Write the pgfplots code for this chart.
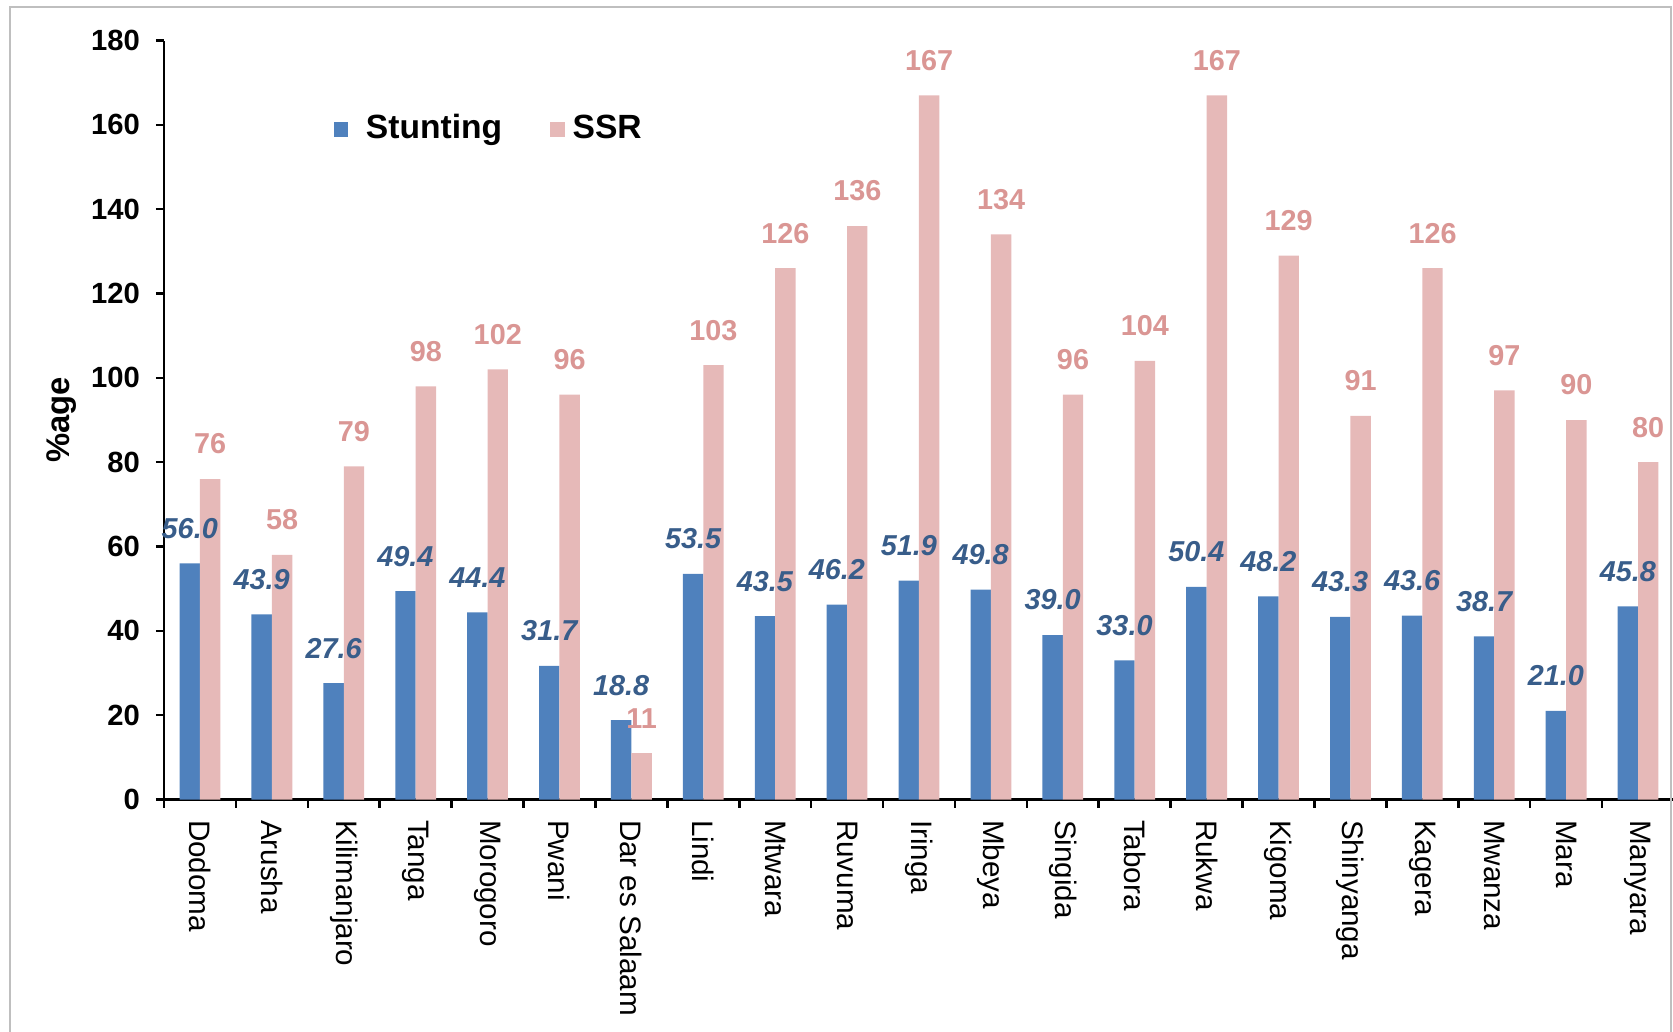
\documentclass[border=0pt]{standalone}
\usepackage{pgfplots}
\pgfplotsset{compat=1.18}
\usepackage{pgfplotstable}
\usepackage{fontspec}
\setmainfont{Liberation Sans}

\definecolor{stuntbar}{HTML}{4F81BD}
\definecolor{ssrbar}{HTML}{E6B9B8}
\definecolor{stuntlbl}{HTML}{385D8A}
\definecolor{ssrlbl}{HTML}{DA9694}
\definecolor{framegray}{HTML}{BFBFBF}

% Stunting (%) and SSR by region
\pgfplotstableread{
idx stunting ssr
0  56.0  76
1  43.9  58
2  27.6  79
3  49.4  98
4  44.4 102
5  31.7  96
6  18.8  11
7  53.5 103
8  43.5 126
9  46.2 136
10 51.9 167
11 49.8 134
12 39.0  96
13 33.0 104
14 50.4 167
15 48.2 129
16 43.3  91
17 43.6 126
18 38.7  97
19 21.0  90
20 45.8  80
}\regiondata

\begin{document}
\begin{tikzpicture}
\begin{axis}[
  scale only axis,
  width=377.5pt, height=189.75pt,
  at={(41pt,57.875pt)}, anchor=south west,
  xmin=-0.5, xmax=20.5, ymin=0, ymax=180,
  axis x line*=bottom, axis y line*=left,
  axis line style={line width=0.65pt, -},
  /pgf/number format/assume math mode=true,
  ybar=0pt, bar width=5.1pt,
  ytick={0,20,...,180},
  xtick={0,...,20},
  xticklabels={Dodoma,Arusha,Kilimanjaro,Tanga,Morogoro,Pwani,Dar es Salaam,Lindi,Mtwara,Ruvuma,Iringa,Mbeya,Singida,Tabora,Rukwa,Kigoma,Shinyanga,Kagera,Mwanza,Mara,Manyara},
  minor xtick={-0.5,0.5,...,20.5},
  tick align=outside,
  major tick length=2pt,
  minor tick length=2.1pt,
  major x tick style={draw=none},
  minor x tick style={line width=0.65pt, black},
  ytick style={line width=0.65pt, black},
  yticklabel style={font=\fontsize{7.3}{8.8}\selectfont\bfseries, xshift=-0.5pt},
  xticklabel style={font=\fontsize{7.4}{8.8}\selectfont, rotate=-90, anchor=west, xshift=-0.4pt},
  every axis y label/.style={at={(rel axis cs:0,0.5)}, xshift=-25.6pt, rotate=90, anchor=center, font=\fontsize{8.2}{10}\selectfont\bfseries},
  ylabel={\%age},
  legend style={draw=none, fill=none, at={(rel axis cs:0.1041,0.8825)}, anchor=west,
    legend columns=2, font=\fontsize{8.4}{10}\selectfont\bfseries,
    /tikz/every even column/.append style={column sep=10pt}},
  clip=false,
]
\addplot[fill=stuntbar, draw=none,
  legend image code/.code={\fill[stuntbar] (0pt,-1.8pt) rectangle (3.6pt,1.8pt); \path (6pt,0pt);},
  nodes near coords={\pgfmathprintnumber[fixed, fixed zerofill, precision=1, assume math mode=true]{\pgfplotspointmeta}},
  every node near coord/.append style={text=stuntlbl, font=\fontsize{7.2}{8.6}\selectfont\bfseries\itshape, anchor=south, inner sep=0pt, yshift=6pt}]
  table[x=idx, y=stunting] {\regiondata};
\addlegendentry{Stunting}
\addplot[fill=ssrbar, draw=none,
  legend image code/.code={\fill[ssrbar] (0pt,-1.8pt) rectangle (3.6pt,1.8pt);},
  nodes near coords={\pgfmathprintnumber[fixed, precision=0, assume math mode=true]{\pgfplotspointmeta}},
  every node near coord/.append style={text=ssrlbl, font=\fontsize{7.2}{8.6}\selectfont\bfseries, anchor=south, inner sep=0pt, yshift=6pt}]
  table[x=idx, y=ssr] {\regiondata};
\addlegendentry{SSR}
\end{axis}
% outer frame of the chart area
\draw[framegray, line width=0.5pt] (2.6pt,-10pt) -- (2.6pt,256.1pt) -- (417.8pt,256.1pt) -- (417.8pt,-10pt);
\pgfresetboundingbox
\useasboundingbox (0,0) rectangle (418.25pt,257.75pt);
\end{tikzpicture}
\end{document}
